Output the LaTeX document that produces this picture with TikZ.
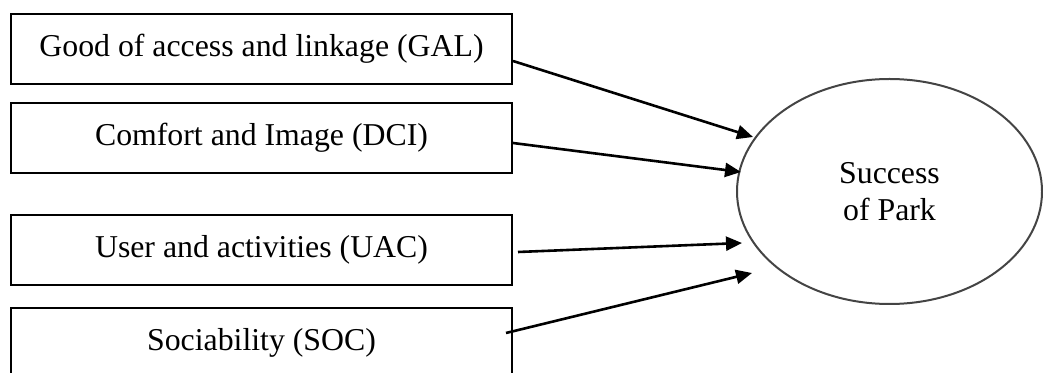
\documentclass[tikz,border=0pt]{standalone}
\usepackage{fontspec}
\setmainfont{Liberation Serif}
\usepackage{tikz}
\usetikzlibrary{positioning,shapes.geometric,arrows.meta}
\definecolor{ringgrey}{RGB}{68,68,68}
\tikzstyle{arrow}=[-{Triangle[length=8pt,width=7pt]}, line width=1.3pt]
\tikzstyle{factor}=[draw, line width=1pt, minimum width=250.5pt, minimum height=35pt, inner sep=0pt]

\begin{document}
\begin{tikzpicture}[x=0.5pt, y=-0.5pt, font=\fontsize{15.9}{18.5}\selectfont]
	  \useasboundingbox (0,0) rectangle (1043,373);
	  % factors
	  \node[factor] (gal) at (261.5,49) {Good of access and linkage (GAL)};
	  \node[factor] (dci) at (261.5,138) {Comfort and Image (DCI)};
	  \node[factor] (uac) at (261.5,250) {User and activities (UAC)};
	  \node[factor] (soc) at (261.5,343) {Sociability (SOC)};
	  % outcome
	  \node[draw=ringgrey, line width=1pt, ellipse, minimum width=152.5pt, minimum height=112.5pt,
	        inner sep=0pt, align=center] (park) at (889.5,191.5) {Success\\of Park};
	  \coordinate (t1) at (753,137);
	  \coordinate (t2) at (741,172);
	  \coordinate (t3) at (742,243);
	  \coordinate (t4) at (752,273);
	  \draw[arrow] ([yshift=-6pt]gal.east) -- (t1);
	  \draw[arrow] ([yshift=-2.5pt]dci.east) -- (t2);
	  \draw[arrow] ([xshift=2.5pt,yshift=-1pt]uac.east) -- (t3);
	  \draw[arrow] ([xshift=-3.5pt,yshift=5pt]soc.east) -- (t4);
	\end{tikzpicture}
\end{document}
